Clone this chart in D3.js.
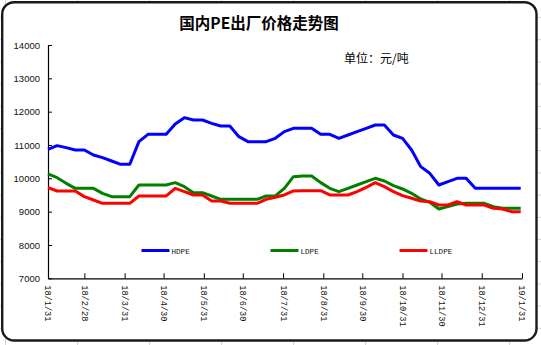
<!DOCTYPE html>
<html><head><meta charset="utf-8">
<script src="https://cdn.jsdelivr.net/npm/d3@7/dist/d3.min.js"></script>
<style>body{margin:0;background:#fff;overflow:hidden}</style>
</head><body>
<svg id="c" width="541" height="345"></svg>
<script>
// ---- data ----
const startDate = "2018-01-31";   // first weekly observation
const endDate = "2019-01-31";
const seriesNames = ["HDPE", "LDPE", "LLDPE"];
const seriesColors = ["#0000ff", "#008000", "#ff0000"];
const hdpe = [10870,10980,10920,10850,10850,10700,10620,10520,10420,10420,
  11100,11320,11320,11320,11630,11820,11750,11750,11650,11570,
  11570,11250,11100,11100,11100,11200,11400,11500,11500,11500,
  11320,11320,11200,11300,11400,11500,11600,11600,11300,11200,
  10850,10350,10150,9800,9900,10000,10000,9700,9700,9700,
  9700,9700,9700];
const ldpe = [10130,10020,9850,9700,9700,9700,9550,9450,9450,9450,
  9800,9800,9800,9800,9870,9750,9570,9570,9470,9370,
  9370,9370,9370,9370,9470,9470,9700,10050,10070,10070,
  9870,9700,9600,9700,9800,9900,10000,9920,9780,9680,
  9550,9380,9280,9080,9150,9230,9250,9250,9250,9150,
  9100,9100,9100];
const lldpe = [9720,9620,9620,9620,9450,9350,9250,9250,9250,9250,
  9470,9470,9470,9470,9700,9600,9500,9500,9320,9320,
  9250,9250,9250,9250,9370,9430,9500,9620,9630,9630,
  9630,9500,9500,9500,9600,9730,9870,9750,9600,9480,
  9400,9320,9300,9200,9200,9300,9200,9200,9200,9100,
  9080,9000,9000];
const yTicks = [7000,8000,9000,10000,11000,12000,13000,14000];
const xTickDates = ["2018-01-31","2018-02-28","2018-03-31","2018-04-30","2018-05-31","2018-06-30",
  "2018-07-31","2018-08-31","2018-09-30","2018-10-31","2018-11-30","2018-12-31","2019-01-31"];
const xTickLabels = ["18/1/31","18/2/28","18/3/31","18/4/30","18/5/31","18/6/30",
  "18/7/31","18/8/31","18/9/30","18/10/31","18/11/30","18/12/31","19/1/31"];
const titleText = "国内PE出厂价格走势图";
const unitText = "单位：元/吨";

// ---- drawing ----
const parse = d3.timeParse("%Y-%m-%d");
const t0 = parse(startDate);
const dates = hdpe.map((_, i) => d3.timeDay.offset(t0, 7 * i));
const svg = d3.select("#c");

// spreadsheet gridlines behind the chart box
const gl = svg.append("g").attr("stroke", "#d4d4d4").attr("stroke-width", 1);
d3.range(8).forEach(k => {
  const x = 5.5 + 72 * k;
  gl.append("line").attr("x1", x).attr("x2", x).attr("y1", 0).attr("y2", 345);
});
d3.range(16).forEach(k => {
  const y = 17.5 + 22.2 * k;
  gl.append("line").attr("x1", 0).attr("x2", 541).attr("y1", y).attr("y2", y);
});

// chart box
svg.append("rect").attr("x", 2.2).attr("y", 2.2).attr("width", 534.3).attr("height", 338.3)
  .attr("rx", 12).attr("ry", 12).attr("fill", "#fff").attr("stroke", "#1a1a1a").attr("stroke-width", 2.4);

const x = d3.scaleTime().domain([parse(startDate), parse(endDate)]).range([48, 522]);
const y = d3.scaleLinear().domain([7000, 14000]).range([278.3, 45]);

// y axis
const ya = svg.append("g").attr("transform", "translate(48,0)")
  .call(d3.axisLeft(y).tickValues(yTicks).tickFormat(d3.format("d")).tickSize(-4).tickSizeOuter(0).tickPadding(8));
ya.select(".domain").attr("stroke", "#000").attr("stroke-width", 1.2);
ya.selectAll(".tick line").attr("stroke", "#000");
ya.selectAll(".tick text").attr("font-family", "Liberation Sans, Arial, sans-serif")
  .attr("font-size", 9.5).attr("fill", "#111");

// x axis
const xa = svg.append("g").attr("transform", "translate(0,278.3)")
  .call(d3.axisBottom(x).tickValues(xTickDates.map(parse))
    .tickFormat((d, i) => xTickLabels[i]).tickSize(-5).tickSizeOuter(0));
xa.select(".domain").attr("stroke", "#000").attr("stroke-width", 1.2);
xa.selectAll(".tick line").attr("stroke", "#000");
xa.selectAll(".tick text")
  .attr("font-family", "Liberation Mono, DejaVu Sans Mono, monospace")
  .attr("font-size", 8.6).attr("fill", "#111")
  .attr("transform", "rotate(90)")
  .attr("text-anchor", "start").attr("x", 7).attr("y", 0).attr("dy", "0.35em");

// lines
const line = d3.line().x((d, i) => x(dates[i])).y(d => y(d));
[hdpe, ldpe, lldpe].forEach((s, k) => {
  svg.append("path").datum(s).attr("d", line).attr("fill", "none")
    .attr("stroke", seriesColors[k]).attr("stroke-width", 3).attr("stroke-linejoin", "round");
});

// legend
const legX = [141.5, 270.5, 399.5];
seriesNames.forEach((n, k) => {
  svg.append("line").attr("x1", legX[k]).attr("x2", legX[k] + 28).attr("y1", 250.5).attr("y2", 250.5)
    .attr("stroke", seriesColors[k]).attr("stroke-width", 3);
  svg.append("text").attr("x", legX[k] + 30).attr("y", 254).text(n)
    .attr("font-family", "Liberation Mono, DejaVu Sans Mono, monospace")
    .attr("font-size", 7.6).attr("fill", "#111");
});

// titles
svg.append("text").attr("x", 259).attr("y", 29).attr("text-anchor", "middle").text(titleText)
  .attr("font-family", "Noto Sans CJK SC, sans-serif").attr("font-weight", "bold")
  .attr("font-size", 15.5).attr("fill", "#000");
svg.append("text").attr("x", 344).attr("y", 63).text(unitText)
  .attr("font-family", "Noto Sans CJK SC, sans-serif")
  .attr("font-size", 12).attr("fill", "#000");
</script>
</body></html>
